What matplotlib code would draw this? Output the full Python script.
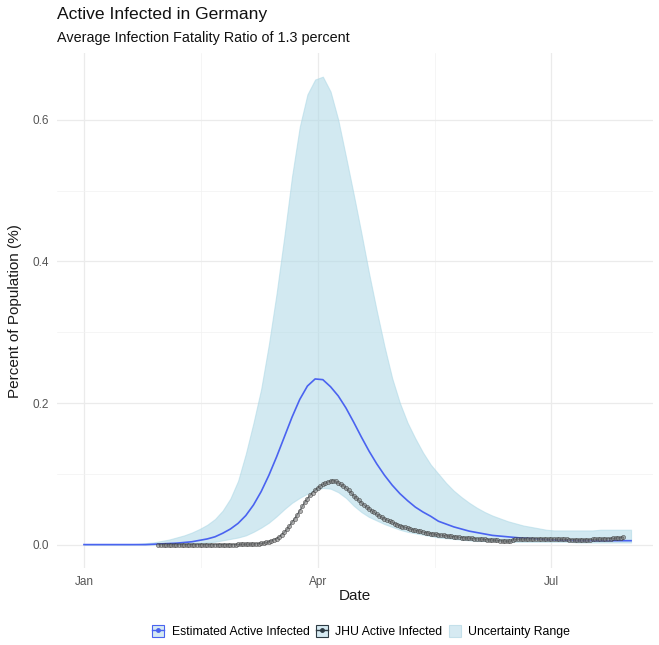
import pandas as pd
import matplotlib
matplotlib.use("Agg")
import matplotlib.pyplot as plt
import matplotlib.dates as mdates
from matplotlib.lines import Line2D
from matplotlib.patches import Patch

plt.rcParams['font.family'] = ['Liberation Sans', 'DejaVu Sans']

# model output, every 3 days from 1 Jan 2020 (percent of population)
model_dates = pd.date_range('2020-01-01', periods=72, freq='3D')
estimated = [0.000, 0.000, 0.000, 0.000, 0.000, 0.000, 0.000, 0.000, 0.000, 0.0005,
             0.001, 0.0015, 0.002, 0.003, 0.004, 0.006, 0.008, 0.011, 0.016, 0.022,
             0.030, 0.041, 0.056, 0.075, 0.098, 0.124, 0.152, 0.180, 0.205, 0.224,
             0.234, 0.233, 0.223, 0.210, 0.193, 0.173, 0.152, 0.132, 0.114, 0.098,
             0.084, 0.072, 0.062, 0.053, 0.046, 0.040, 0.033, 0.029, 0.025, 0.022,
             0.019, 0.017, 0.015, 0.013, 0.012, 0.011, 0.010, 0.009, 0.0085, 0.008,
             0.007, 0.0065, 0.006, 0.006, 0.0055, 0.0055, 0.0055, 0.0055, 0.0055, 0.0055,
             0.0055, 0.0055]
upper = [0.000, 0.000, 0.000, 0.000, 0.000, 0.000, 0.0005, 0.001, 0.002, 0.003,
         0.005, 0.007, 0.010, 0.013, 0.017, 0.022, 0.028, 0.036, 0.048, 0.065,
         0.090, 0.128, 0.172, 0.220, 0.283, 0.355, 0.435, 0.520, 0.590, 0.636,
         0.657, 0.661, 0.640, 0.600, 0.548, 0.495, 0.440, 0.383, 0.330, 0.280,
         0.235, 0.200, 0.172, 0.150, 0.130, 0.113, 0.100, 0.087, 0.076, 0.067,
         0.059, 0.052, 0.046, 0.041, 0.037, 0.033, 0.030, 0.027, 0.025, 0.023,
         0.021, 0.020, 0.020, 0.020, 0.020, 0.020, 0.020, 0.021, 0.021, 0.021,
         0.021, 0.021]
lower = [0.000, 0.000, 0.000, 0.000, 0.000, 0.000, 0.000, 0.000, 0.000, 0.000,
         0.000, 0.000, 0.000, 0.000, 0.001, 0.002, 0.003, 0.004, 0.006, 0.008,
         0.010, 0.013, 0.018, 0.024, 0.031, 0.040, 0.050, 0.059, 0.066, 0.072,
         0.077, 0.080, 0.079, 0.074, 0.066, 0.055, 0.046, 0.039, 0.034, 0.029,
         0.025, 0.021, 0.018, 0.016, 0.014, 0.012, 0.010, 0.009, 0.008, 0.007,
         0.006, 0.005, 0.005, 0.005, 0.005, 0.004, 0.004, 0.004, 0.004, 0.004,
         0.004, 0.004, 0.004, 0.004, 0.003, 0.003, 0.003, 0.003, 0.003, 0.003,
         0.003, 0.003]

# JHU reported active cases, daily from 30 Jan 2020
jhu_dates_start = '2020-01-30'
jhu_active = [
    0.0, 0.0, 0.0, 0.0, 0.0, 0.0, 0.0, 0.0, 0.0, 0.0,
    0.0, 0.0, 0.0, 0.0, 0.0, 0.0, 0.0, 0.0, 0.0, 0.0,
    0.0, 0.0, 0.0, 0.0, 0.0, 0.0, 0.0, 0.0, 0.0, 0.0001,
    0.0001, 0.0002, 0.0002, 0.0003, 0.0004, 0.0005, 0.0007, 0.0009, 0.0011, 0.0014,
    0.0017, 0.0021, 0.0030, 0.0042, 0.0055, 0.0070, 0.0085, 0.0110, 0.0140, 0.0175,
    0.0215, 0.0265, 0.0315, 0.0365, 0.0420, 0.0480, 0.0540, 0.0600, 0.0650, 0.0695,
    0.0735, 0.0770, 0.0800, 0.0825, 0.0850, 0.0868, 0.0885, 0.0898, 0.0905, 0.0895,
    0.0870, 0.0850, 0.0830, 0.0800, 0.0765, 0.0730, 0.0690, 0.0660, 0.0625, 0.0590,
    0.0560, 0.0535, 0.0505, 0.0480, 0.0455, 0.0430, 0.0405, 0.0385, 0.0365, 0.0348,
    0.0330, 0.0313, 0.0297, 0.0282, 0.0268, 0.0255, 0.0243, 0.0232, 0.0222, 0.0212,
    0.0203, 0.0194, 0.0185, 0.0177, 0.0170, 0.0163, 0.0156, 0.0150, 0.0144, 0.0139,
    0.0134, 0.0129, 0.0124, 0.0120, 0.0116, 0.0112, 0.0108, 0.0104, 0.0100, 0.0097,
    0.0094, 0.0091, 0.0088, 0.0085, 0.0082, 0.0079, 0.0076, 0.0073, 0.0070, 0.0067,
    0.0064, 0.0061, 0.0058, 0.0055, 0.0052, 0.0050, 0.0048, 0.0046, 0.0070, 0.0072,
    0.0074, 0.0076, 0.0078, 0.0080, 0.0081, 0.0082, 0.0082, 0.0083, 0.0083, 0.0082,
    0.0081, 0.0080, 0.0079, 0.0078, 0.0077, 0.0076, 0.0075, 0.0074, 0.0073, 0.0072,
    0.0071, 0.0070, 0.0069, 0.0068, 0.0068, 0.0068, 0.0069, 0.0070, 0.0071, 0.0072,
    0.0073, 0.0075, 0.0077, 0.0079, 0.0081, 0.0083, 0.0085, 0.0088, 0.0091, 0.0094,
    0.0098, 0.0102]
jhu_dates = pd.date_range(jhu_dates_start, periods=len(jhu_active), freq='D')

blue = '#4A63F0'
ribbon = '#ADD8E6'
jhu_col = '#2E3B44'

fig = plt.figure(figsize=(6.59, 6.45), dpi=100)
ax = fig.add_axes([0.0865, 0.1194, 0.905, 0.798])

ax.fill_between(model_dates, lower, upper, facecolor=ribbon, alpha=0.55,
                edgecolor=ribbon, linewidth=0.8, zorder=2)
ax.plot(model_dates, estimated, color=blue, lw=1.2, zorder=3)
ax.plot(jhu_dates, jhu_active, color=jhu_col, lw=0.8, alpha=0.7, zorder=4)
ax.plot(jhu_dates, jhu_active, ls='none', marker='o', ms=3.0,
        mfc='#808080', mec='#2a2a2a', mew=0.5, alpha=0.6, zorder=5)

# axes, ggplot theme_minimal look
for s in ax.spines.values():
    s.set_visible(False)
ax.set_yticks([0.0, 0.2, 0.4, 0.6])
ax.set_yticks([0.1, 0.3, 0.5], minor=True)
ax.yaxis.set_major_formatter(matplotlib.ticker.FormatStrFormatter('%.1f'))
ax.set_xticks(pd.to_datetime(['2020-01-01', '2020-04-01', '2020-07-01']))
ax.set_xticks(pd.to_datetime(['2020-02-15 12:00', '2020-05-16 12:00']), minor=True)
ax.xaxis.set_major_formatter(mdates.DateFormatter('%b'))
start = pd.Timestamp('2020-01-01')
ax.set_xlim(start - pd.Timedelta(days=10.5), start + pd.Timedelta(days=221.7))
ax.grid(which='major', color='#EBEBEB', lw=0.9, zorder=0)
ax.grid(which='minor', color='#F2F2F2', lw=0.5, zorder=0)
ax.set_axisbelow(True)
ax.tick_params(which='both', length=0, labelsize=8.5, labelcolor='#555555', pad=6)

ax.set_xlabel('Date', fontsize=11, color='#1a1a1a')
ax.xaxis.set_label_coords(0.5, -0.041)
ax.set_ylabel('Percent of Population (%)', fontsize=11, color='#1a1a1a')
ax.yaxis.set_label_coords(-0.058, 0.5)

fig.text(0.0865, 0.978, 'Active Infected in Germany', fontsize=12.6, va='center', color='#111111')
fig.text(0.0865, 0.941, 'Average Infection Fatality Ratio of 1.3 percent', fontsize=10.4, va='center', color='#111111')

h_est = (Patch(facecolor='#D6EAF2', edgecolor=blue, lw=0.8),
         Line2D([], [], color=blue, lw=1.0, marker='o', ms=2.5))
h_jhu = (Patch(facecolor='#D6EAF2', edgecolor=jhu_col, lw=0.8),
         Line2D([], [], color=jhu_col, lw=1.0, marker='o', ms=2.5))
h_rng = Patch(facecolor='#D6EAF2', edgecolor='#C4E0EA', lw=0.8)
fig.legend([h_est, h_jhu, h_rng],
           ['Estimated Active Infected', 'JHU Active Infected', 'Uncertainty Range'],
           loc='center', bbox_to_anchor=(0.548, 0.021), ncol=3, frameon=False,
           fontsize=8.8, handlelength=1.0, handleheight=1.1, handletextpad=0.6,
           columnspacing=0.5)

fig.savefig('out.png', dpi=100)
